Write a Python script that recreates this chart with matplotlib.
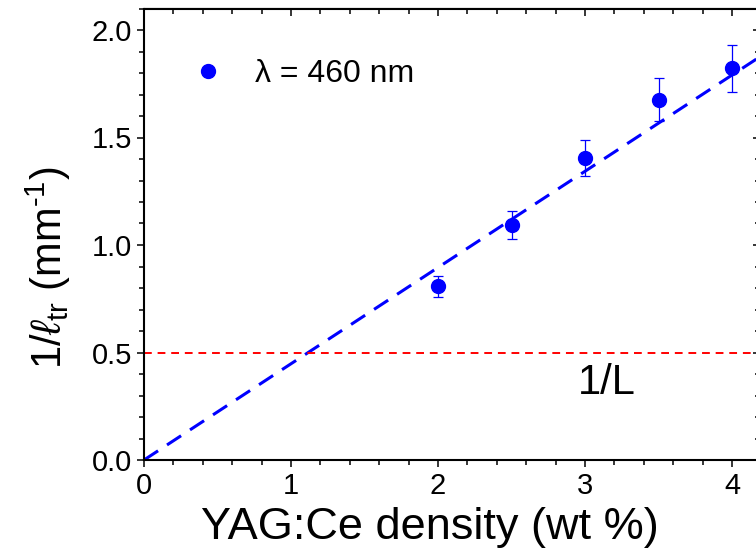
import numpy as np
import matplotlib
matplotlib.use('Agg')
import matplotlib.pyplot as plt
from matplotlib.ticker import MultipleLocator

# Data
density = [2.0, 2.5, 3.0, 3.5, 4.0]           # YAG:Ce (wt %)
inv_ltr = [0.807, 1.093, 1.405, 1.676, 1.821]  # 1/l_tr (mm^-1)
inv_err = [0.048, 0.065, 0.084, 0.100, 0.110]

fit_x = [0.0, 4.2]      # linear fit through origin
fit_y = [0.0, 1.88]
inv_L = 0.5             # 1/L level

plt.rcParams['font.family'] = ['Liberation Sans', 'DejaVu Sans']
plt.rcParams['mathtext.fontset'] = 'custom'
plt.rcParams['mathtext.rm'] = 'Liberation Sans'
plt.rcParams['mathtext.it'] = 'Liberation Sans:italic'
plt.rcParams['mathtext.bf'] = 'Liberation Sans:bold'

fig = plt.figure(figsize=(7.56, 5.5), dpi=100)
ax = fig.add_axes([144/756, 90/550, 617.4/756, 451.5/550])

blue = (0, 0, 1)
ax.plot(fit_x, fit_y, color=blue, lw=2.2, ls=(0, (5.5, 3.5)))
ax.axhline(inv_L, color='red', lw=1.4, ls=(0, (4, 3)))
ax.errorbar(density, inv_ltr, yerr=inv_err, fmt='none', ecolor=blue,
            elinewidth=0.9, capsize=3.5, capthick=0.9)
ax.plot(density, inv_ltr, 'o', color=blue, ms=10, label='\u03bb = 460 nm')

ax.text(3.15, 0.36, '1/L', fontsize=30, ha='center', va='center')

ax.set_xlim(0, 4.2)
ax.set_ylim(0, 2.1)
ax.xaxis.set_major_locator(MultipleLocator(1))
ax.xaxis.set_minor_locator(MultipleLocator(0.2))
ax.yaxis.set_major_locator(MultipleLocator(0.5))
ax.yaxis.set_minor_locator(MultipleLocator(0.1))
ax.yaxis.set_major_formatter(plt.FormatStrFormatter('%.1f'))
ax.tick_params(which='both', direction='out', labelsize=21, width=1.1)
ax.tick_params(which='major', length=5)
ax.tick_params(which='minor', length=3.5)
for s in ax.spines.values():
    s.set_linewidth(1.5)

top = ax.secondary_xaxis('top')
top.xaxis.set_major_locator(MultipleLocator(1))
top.xaxis.set_minor_locator(MultipleLocator(0.2))
top.tick_params(which='both', direction='in', labeltop=False, width=1.1)
top.tick_params(which='major', length=6)
top.tick_params(which='minor', length=4)
right = ax.secondary_yaxis('right')
right.yaxis.set_major_locator(MultipleLocator(0.5))
right.yaxis.set_minor_locator(MultipleLocator(0.1))
right.tick_params(which='both', direction='in', labelright=False, width=1.1)
right.tick_params(which='major', length=6)
right.tick_params(which='minor', length=4)

ax.set_xlabel('YAG:Ce density (wt %)', fontsize=32.5)
ax.xaxis.set_label_coords(0.463, -0.105)
ax.set_ylabel('1/$\\ell_{\\mathrm{tr}}$ (mm$^{\u2010\\mathrm{1}}$)', fontsize=30)
ax.yaxis.set_label_coords(-0.115, 0.425)

ax.legend(loc='upper left', bbox_to_anchor=(0.032, 0.952), frameon=False,
          fontsize=23, handlelength=1.0, handletextpad=0.95, numpoints=1)

fig.savefig('out.png', dpi=100)
